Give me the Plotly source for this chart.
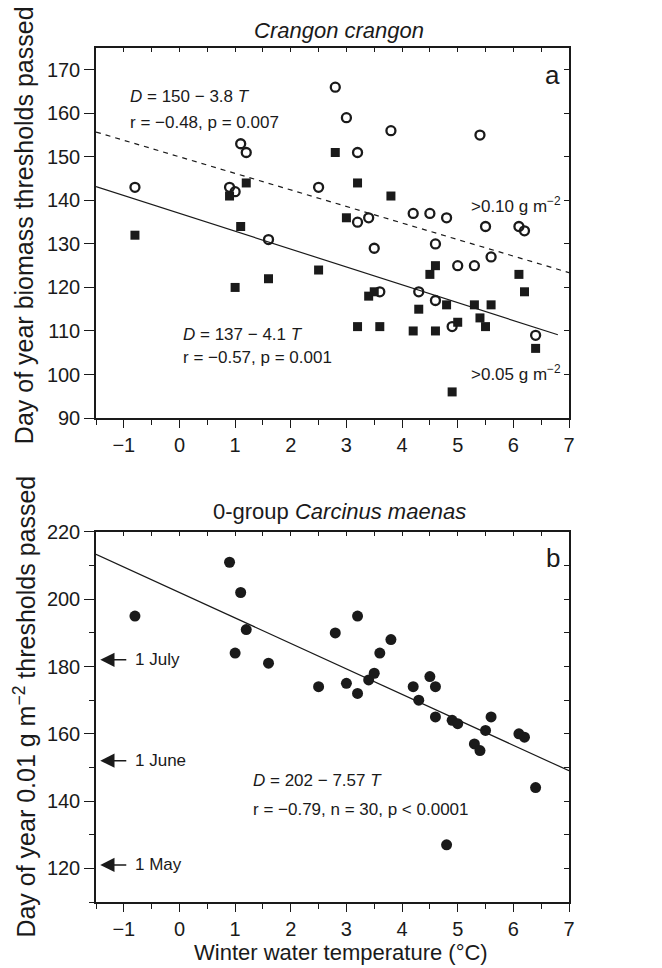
import plotly.graph_objects as go

# ---------------- data ----------------
temps = [-0.8, 0.9, 1.0, 1.1, 1.2, 1.6, 2.5, 2.8, 3.0, 3.2, 3.2, 3.4, 3.5, 3.6, 3.8,
         4.2, 4.3, 4.5, 4.6, 4.6, 4.8, 4.9, 5.0, 5.3, 5.4, 5.5, 5.6, 6.1, 6.2, 6.4]
crangon_010 = [143, 143, 142, 153, 151, 131, 143, 166, 159, 151, 135, 136, 129, 119, 156,
               137, 119, 137, 130, 117, 136, 111, 125, 125, 155, 134, 127, 134, 133, 109]
crangon_005 = [132, 141, 120, 134, 144, 122, 124, 151, 136, 144, 111, 118, 119, 111, 141,
               110, 115, 123, 125, 110, 116, 96, 112, 116, 113, 111, 116, 123, 119, 106]
carcinus_001 = [195, 211, 184, 202, 191, 181, 174, 190, 175, 195, 172, 176, 178, 184, 188,
                174, 170, 177, 174, 165, 127, 164, 163, 157, 155, 161, 165, 160, 159, 144]

fit_010 = (150, -3.8)      # intercept, slope
fit_005 = (137, -4.1)
fit_001 = (202, -7.57)
fit_x_010 = [-1.5, 7.0]
fit_x_005 = [-1.5, 6.8]
fit_x_001 = [-1.5, 7.0]

date_labels = ["1 July", "1 June", "1 May"]
date_days = [182, 152, 121]

x_range = [-1.5, 7]
ya_range = [90, 175]
yb_range = [110, 220]

FONT = "Liberation Sans, Arial, Helvetica, sans-serif"
INK = "#1a1a1a"

fig = go.Figure()

# panel a
fig.add_trace(go.Scatter(x=temps, y=crangon_010, mode="markers", xaxis="x", yaxis="y",
                         marker=dict(symbol="circle-open", size=9, color=INK,
                                     line=dict(width=2.3, color=INK)),
                         showlegend=False, hoverinfo="skip"))
fig.add_trace(go.Scatter(x=temps, y=crangon_005, mode="markers", xaxis="x", yaxis="y",
                         marker=dict(symbol="square", size=9, color=INK,
                                     line=dict(width=0)),
                         showlegend=False, hoverinfo="skip"))
fig.add_trace(go.Scatter(x=fit_x_010, y=[fit_010[0] + fit_010[1] * t for t in fit_x_010],
                         mode="lines", xaxis="x", yaxis="y",
                         line=dict(color=INK, width=1.2, dash="5px,5px"),
                         showlegend=False, hoverinfo="skip"))
fig.add_trace(go.Scatter(x=fit_x_005, y=[fit_005[0] + fit_005[1] * t for t in fit_x_005],
                         mode="lines", xaxis="x", yaxis="y",
                         line=dict(color=INK, width=1.2),
                         showlegend=False, hoverinfo="skip"))

# panel b
fig.add_trace(go.Scatter(x=fit_x_001, y=[fit_001[0] + fit_001[1] * t for t in fit_x_001],
                         mode="lines", xaxis="x2", yaxis="y2",
                         line=dict(color=INK, width=1.2),
                         showlegend=False, hoverinfo="skip"))
fig.add_trace(go.Scatter(x=temps, y=carcinus_001, mode="markers", xaxis="x2", yaxis="y2",
                         marker=dict(symbol="circle", size=11, color=INK, line=dict(width=0)),
                         showlegend=False, hoverinfo="skip"))

# invisible traces for mirrored (inside-tick) axes
fig.add_trace(go.Scatter(x=temps, y=crangon_010, mode="markers", xaxis="x3", yaxis="y3",
                         marker=dict(opacity=0), showlegend=False, hoverinfo="skip"))
fig.add_trace(go.Scatter(x=temps, y=carcinus_001, mode="markers", xaxis="x4", yaxis="y4",
                         marker=dict(opacity=0), showlegend=False, hoverinfo="skip"))

dom_a = [0.5667, 1.0]
dom_b = [0.0, 0.4333]

axline = dict(showline=True, linecolor=INK, linewidth=1.5, showgrid=False, zeroline=False)
tickfont = dict(family=FONT, size=20, color=INK)

def xmain(anchor):
    return dict(**axline, range=x_range, domain=[0, 1], anchor=anchor,
                tickmode="linear", tick0=0, dtick=1, ticks="outside", ticklen=8,
                tickwidth=1.3, tickcolor=INK, tickfont=tickfont,
                minor=dict(tickmode="linear", tick0=0, dtick=0.5, ticks="outside",
                           ticklen=5, tickwidth=1.2, tickcolor=INK))

def xtop(anchor, overlay):
    return dict(**axline, range=x_range, domain=[0, 1], anchor=anchor, side="top",
                overlaying=overlay, showticklabels=False,
                tickmode="linear", tick0=0, dtick=0.5, ticks="inside", ticklen=4,
                tickwidth=1.2, tickcolor=INK)

layout = dict(
    width=662, height=968,
    margin=dict(l=96, r=93, t=48, b=66),
    paper_bgcolor="white", plot_bgcolor="white",
    font=dict(family=FONT, color=INK),
    xaxis=xmain("y"),
    yaxis=dict(**axline, range=ya_range, domain=dom_a, anchor="x",
               tickmode="linear", tick0=90, dtick=10, ticks="outside", ticklen=10,
               tickwidth=1.3, tickcolor=INK, tickfont=tickfont),
    xaxis2=xmain("y2"),
    yaxis2=dict(**axline, range=yb_range, domain=dom_b, anchor="x2",
                tickmode="linear", tick0=120, dtick=20, ticks="outside", ticklen=10,
                tickwidth=1.3, tickcolor=INK, tickfont=tickfont,
                minor=dict(tickmode="linear", tick0=110, dtick=10, ticks="outside",
                           ticklen=5, tickwidth=1.2, tickcolor=INK)),
    xaxis3=xtop("y3", "x"),
    yaxis3=dict(**axline, range=ya_range, domain=dom_a, anchor="x3", side="right",
                overlaying="y", showticklabels=False, tickmode="linear", tick0=90,
                dtick=10, ticks="inside", ticklen=5, tickwidth=1.2, tickcolor=INK),
    xaxis4=xtop("y4", "x2"),
    yaxis4=dict(**axline, range=yb_range, domain=dom_b, anchor="x4", side="right",
                overlaying="y2", showticklabels=False, tickmode="linear", tick0=110,
                dtick=10, ticks="inside", ticklen=5, tickwidth=1.2, tickcolor=INK),
)
fig.update_layout(**layout)

ann = []
def txt(text, x, y, xref, yref, size=17, xanchor="left", yanchor="middle", angle=0):
    ann.append(dict(text=text, x=x, y=y, xref=xref, yref=yref, showarrow=False,
                    xanchor=xanchor, yanchor=yanchor, textangle=angle,
                    font=dict(family=FONT, size=size, color=INK)))

# titles
txt("<i>Crangon crangon</i>", 0.514, 1.021, "paper", "paper", size=22, xanchor="center")
txt("0-group <i>Carcinus maenas</i>", 0.515, 0.4567, "paper", "paper", size=22, xanchor="center")
txt("Winter water temperature (°C)", 0.517, -0.0597, "paper", "paper", size=22, xanchor="center")
txt("Day of year biomass thresholds passed", -0.152, 0.7927, "paper", "paper",
    size=25, xanchor="center", angle=-90)
txt("Day of year 0.01 g m<sup>−2</sup> thresholds passed", -0.152, 0.2289, "paper", "paper",
    size=25, xanchor="center", angle=-90)

# panel a labels
txt("a", 6.71, 168.8, "x", "y", size=26, xanchor="center")
txt("<i>D</i> = 150 − 3.8 <i>T</i>", -0.925, 163.8, "x", "y")
txt("r = −0.48, p = 0.007", -0.925, 158.0, "x", "y")
txt("<i>D</i> = 137 − 4.1 <i>T</i>", 0.02, 109.3, "x", "y")
txt("r = −0.57, p = 0.001", 0.02, 104.0, "x", "y")
txt(">0.10 g m<sup>−2</sup>", 6.9, 138.9, "x", "y", xanchor="right")
txt(">0.05 g m<sup>−2</sup>", 6.9, 100.3, "x", "y", xanchor="right")

# panel b labels
txt("b", 6.71, 212.3, "x2", "y2", size=26, xanchor="center")
txt("<i>D</i> = 202 − 7.57 <i>T</i>", 1.28, 146.0, "x2", "y2")
txt("r = −0.79, n = 30, p < 0.0001", 1.28, 137.4, "x2", "y2")

for lab, d in zip(date_labels, date_days):
    ann.append(dict(text=lab, x=-1.423, y=d, ax=-0.83, ay=d, xref="x2", yref="y2",
                    axref="x2", ayref="y2", showarrow=True, arrowhead=2, arrowsize=1.9,
                    arrowwidth=1.5, arrowcolor=INK, startstandoff=7,
                    xanchor="left", yanchor="middle",
                    font=dict(family=FONT, size=17, color=INK)))

fig.update_layout(annotations=ann)
fig.write_html("out.html", config={"displayModeBar": False},
               post_script="document.body.style.margin='0';document.body.style.padding='0';")
